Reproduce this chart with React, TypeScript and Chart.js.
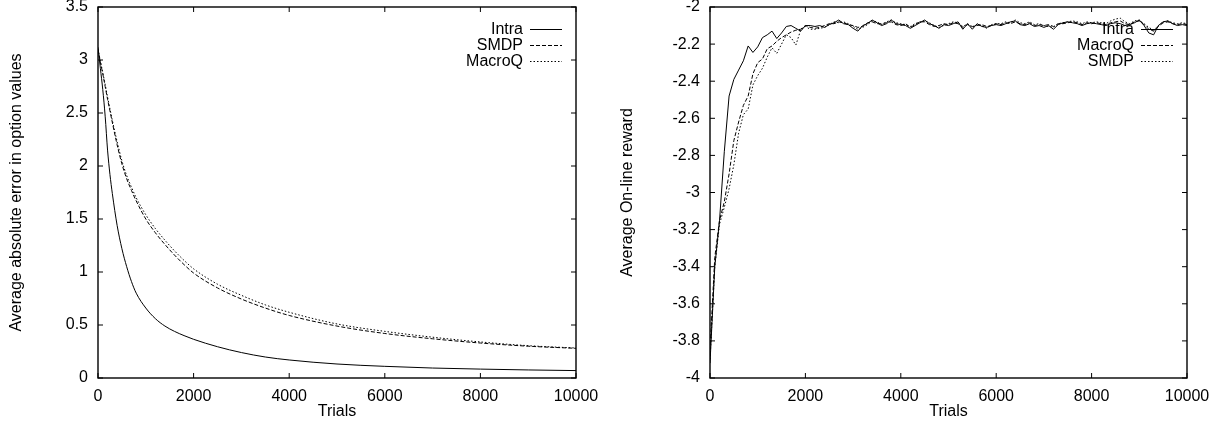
import React, { useEffect, useRef } from "react";
import { Chart, registerables } from "chart.js";
Chart.register(...registerables);

const FONT = '"Liberation Sans", Arial, Helvetica, sans-serif';

// ---------- Left panel: average absolute error in option values ----------
const errTrials = [0, 50, 100, 150, 200, 250, 300, 400, 500, 600, 700, 800, 1000, 1200, 1400, 1600, 1800, 2000, 2500, 3000, 3500, 4000, 5000, 6000, 7000, 8000, 9000, 10000];
const errIntra = [3.12, 2.92, 2.72, 2.47, 2.15, 1.92, 1.74, 1.44, 1.22, 1.05, 0.91, 0.8, 0.66, 0.56, 0.49, 0.44, 0.4, 0.365, 0.295, 0.24, 0.198, 0.17, 0.132, 0.11, 0.094, 0.084, 0.076, 0.07];
const errSMDP = [3.1, 2.98, 2.87, 2.75, 2.63, 2.52, 2.41, 2.2, 2.02, 1.88, 1.77, 1.67, 1.5, 1.37, 1.26, 1.16, 1.07, 0.99, 0.85, 0.745, 0.66, 0.59, 0.49, 0.42, 0.37, 0.33, 0.3, 0.28];
const errMacroQ = [3.1, 2.99, 2.88, 2.77, 2.65, 2.54, 2.43, 2.23, 2.05, 1.91, 1.8, 1.7, 1.54, 1.41, 1.3, 1.2, 1.11, 1.03, 0.885, 0.78, 0.69, 0.62, 0.51, 0.44, 0.385, 0.34, 0.305, 0.283];

// ---------- Right panel: average on-line reward ----------
const rewTrials = [
  0, 100, 200, 300, 400, 500, 600, 700, 800, 900,
  1000, 1100, 1200, 1300, 1400, 1500, 1600, 1700, 1800, 1900,
  2000, 2100, 2200, 2300, 2400, 2500, 2600, 2700, 2800, 2900,
  3000, 3100, 3200, 3300, 3400, 3500, 3600, 3700, 3800, 3900,
  4000, 4100, 4200, 4300, 4400, 4500, 4600, 4700, 4800, 4900,
  5000, 5100, 5200, 5300, 5400, 5500, 5600, 5700, 5800, 5900,
  6000, 6100, 6200, 6300, 6400, 6500, 6600, 6700, 6800, 6900,
  7000, 7100, 7200, 7300, 7400, 7500, 7600, 7700, 7800, 7900,
  8000, 8100, 8200, 8300, 8400, 8500, 8600, 8700, 8800, 8900,
  9000, 9100, 9200, 9300, 9400, 9500, 9600, 9700, 9800, 9900,
  10000,
];
const rewIntra = [
  -3.92, -3.4, -3.15, -2.78, -2.48, -2.39, -2.34, -2.29, -2.21, -2.245,
  -2.215, -2.165, -2.15, -2.13, -2.17, -2.14, -2.105, -2.1, -2.115, -2.13,
  -2.1, -2.1, -2.105, -2.1, -2.11, -2.095, -2.085, -2.07, -2.09, -2.095,
  -2.115, -2.13, -2.1, -2.09, -2.07, -2.085, -2.1, -2.09, -2.07, -2.09,
  -2.095, -2.1, -2.115, -2.1, -2.085, -2.07, -2.09, -2.1, -2.115, -2.095,
  -2.1, -2.09, -2.08, -2.12, -2.09, -2.12, -2.09, -2.105, -2.11, -2.1,
  -2.095, -2.1, -2.09, -2.08, -2.075, -2.095, -2.1, -2.09, -2.105, -2.1,
  -2.11, -2.1, -2.12, -2.095, -2.085, -2.08, -2.085, -2.09, -2.1, -2.09,
  -2.085, -2.09, -2.095, -2.1, -2.09, -2.085, -2.09, -2.1, -2.095, -2.085,
  -2.07, -2.1, -2.14, -2.15, -2.1, -2.08, -2.075, -2.09, -2.1, -2.095,
  -2.1,
];
const rewMacroQ = [
  -3.85, -3.35, -3.15, -3.05, -2.9, -2.72, -2.62, -2.53, -2.48, -2.36,
  -2.3, -2.28, -2.225, -2.21, -2.185, -2.165, -2.15, -2.135, -2.125, -2.12,
  -2.1, -2.11, -2.115, -2.11, -2.1, -2.09, -2.09, -2.08, -2.085, -2.095,
  -2.1, -2.11, -2.105, -2.085, -2.08, -2.09, -2.09, -2.085, -2.08, -2.095,
  -2.1, -2.09, -2.11, -2.095, -2.08, -2.08, -2.095, -2.105, -2.1, -2.09,
  -2.095, -2.085, -2.09, -2.11, -2.095, -2.105, -2.1, -2.095, -2.105, -2.1,
  -2.09, -2.095, -2.085, -2.09, -2.08, -2.09, -2.095, -2.085, -2.1, -2.095,
  -2.1, -2.095, -2.105, -2.09, -2.09, -2.085, -2.08, -2.085, -2.095, -2.085,
  -2.09, -2.085, -2.09, -2.095, -2.085, -2.08, -2.075, -2.09, -2.095, -2.08,
  -2.075, -2.095, -2.12, -2.13, -2.105, -2.085, -2.08, -2.09, -2.095, -2.09,
  -2.095,
];
const rewSMDP = [
  -3.9, -3.4, -3.17, -3.08, -2.98, -2.85, -2.68, -2.58, -2.55, -2.42,
  -2.37, -2.33, -2.27, -2.22, -2.25, -2.2, -2.15, -2.165, -2.205, -2.125,
  -2.105, -2.12, -2.12, -2.115, -2.11, -2.095, -2.08, -2.085, -2.08, -2.09,
  -2.105, -2.12, -2.11, -2.095, -2.075, -2.08, -2.095, -2.08, -2.07, -2.085,
  -2.09, -2.095, -2.105, -2.09, -2.08, -2.075, -2.085, -2.1, -2.11, -2.1,
  -2.09, -2.08, -2.085, -2.105, -2.09, -2.11, -2.095, -2.1, -2.115, -2.095,
  -2.09, -2.09, -2.08, -2.085, -2.07, -2.085, -2.09, -2.08, -2.095, -2.09,
  -2.1, -2.105, -2.11, -2.09, -2.085, -2.08, -2.075, -2.08, -2.09, -2.08,
  -2.085, -2.08, -2.085, -2.09, -2.075, -2.065, -2.06, -2.08, -2.09, -2.075,
  -2.07, -2.09, -2.11, -2.125, -2.1, -2.08, -2.075, -2.085, -2.09, -2.085,
  -2.09,
];

const SOLID: number[] = [];
const DASHED = [4, 2];
const DOTTED = [1.5, 2];

type Series = { label: string; x: number[]; y: number[]; dash: number[]; smooth: boolean };

const framePlugin = {
  id: "gnuFrame",
  afterDraw(chart: any) {
    const { ctx, chartArea: a, scales } = chart;
    ctx.save();
    ctx.strokeStyle = "#000";
    ctx.lineWidth = 1.4;
    ctx.setLineDash([]);
    ctx.strokeRect(a.left, a.top, a.right - a.left, a.bottom - a.top);
    const TL = 5;
    ctx.lineWidth = 1;
    ctx.beginPath();
    scales.x.ticks.forEach((t: any) => {
      const px = scales.x.getPixelForValue(t.value);
      ctx.moveTo(px, a.bottom);
      ctx.lineTo(px, a.bottom - TL);
      ctx.moveTo(px, a.top);
      ctx.lineTo(px, a.top + TL);
    });
    scales.y.ticks.forEach((t: any) => {
      const py = scales.y.getPixelForValue(t.value);
      ctx.moveTo(a.left, py);
      ctx.lineTo(a.left + TL, py);
      ctx.moveTo(a.right, py);
      ctx.lineTo(a.right - TL, py);
    });
    ctx.stroke();
    ctx.restore();
  },
};

const legendPlugin = {
  id: "gnuLegend",
  afterDatasetsDraw(chart: any) {
    const { ctx, chartArea: a } = chart;
    ctx.save();
    ctx.font = `16px ${FONT}`;
    ctx.fillStyle = "#000";
    ctx.textAlign = "right";
    ctx.textBaseline = "middle";
    chart.data.datasets.forEach((ds: any, i: number) => {
      const y = a.top + 22 + i * 16;
      ctx.fillText(ds.label, a.right - 53, y + 1);
      ctx.beginPath();
      ctx.strokeStyle = "#000";
      ctx.lineWidth = 1;
      ctx.setLineDash(ds.borderDash || []);
      ctx.moveTo(a.right - 46, y + 0.5);
      ctx.lineTo(a.right - 14, y + 0.5);
      ctx.stroke();
    });
    ctx.restore();
  },
};

function Panel(props: {
  series: Series[];
  yMin: number;
  yMax: number;
  yStep: number;
  yTitle: string;
  width: number;
  yAxisWidth: number;
  padRight: number;
}) {
  const ref = useRef<HTMLCanvasElement>(null);
  useEffect(() => {
    const { series, yMin, yMax, yStep, yTitle, yAxisWidth, padRight } = props;
    const font = { family: FONT, size: 16 };
    const chart = new Chart(ref.current as HTMLCanvasElement, {
      type: "line",
      data: {
        datasets: series.map((s) => ({
          label: s.label,
          data: s.x.map((x, i) => ({ x, y: s.y[i] })),
          borderColor: "#000",
          borderWidth: 1,
          borderDash: s.dash,
          pointRadius: 0,
          fill: false,
          tension: 0,
          cubicInterpolationMode: s.smooth ? "monotone" : "default",
        })),
      },
      options: {
        animation: false,
        responsive: false,
        events: [],
        layout: { padding: { left: 0, top: 7, right: padRight, bottom: 0 } },
        plugins: { legend: { display: false }, tooltip: { enabled: false } },
        scales: {
          x: {
            type: "linear",
            min: 0,
            max: 10000,
            grid: { display: false, drawTicks: false },
            border: { display: false },
            ticks: {
              stepSize: 2000,
              padding: 9,
              color: "#000",
              font,
              maxRotation: 0,
              autoSkip: false,
              callback: (v: any) => String(v),
            },
            title: { display: true, text: "Trials", color: "#000", font, padding: { top: 0, bottom: 5 } },
            afterFit: (s: any) => {
              s.height = 48;
            },
          },
          y: {
            type: "linear",
            min: yMin,
            max: yMax,
            grid: { display: false, drawTicks: false },
            border: { display: false },
            ticks: {
              stepSize: yStep,
              padding: 10,
              color: "#000",
              font: { family: FONT, size: 16, lineHeight: 0.05 },
              callback: (v: any) => String(+Number(v).toFixed(2)),
            },
            title: { display: true, text: yTitle, color: "#000", font, padding: { top: 7, bottom: 0 } },
            afterFit: (s: any) => {
              s.width = yAxisWidth;
              s.paddingTop = 0;
              s.paddingBottom = 0;
            },
          },
        },
      } as any,
      plugins: [framePlugin, legendPlugin],
    });
    return () => chart.destroy();
  }, []);
  return <canvas ref={ref} width={props.width} height={426} style={{ display: "block" }} />;
}

export default function App() {
  const left: Series[] = [
    { label: "Intra", x: errTrials, y: errIntra, dash: SOLID, smooth: true },
    { label: "SMDP", x: errTrials, y: errSMDP, dash: DASHED, smooth: true },
    { label: "MacroQ", x: errTrials, y: errMacroQ, dash: DOTTED, smooth: true },
  ];
  const right: Series[] = [
    { label: "Intra", x: rewTrials, y: rewIntra, dash: SOLID, smooth: false },
    { label: "MacroQ", x: rewTrials, y: rewMacroQ, dash: DASHED, smooth: false },
    { label: "SMDP", x: rewTrials, y: rewSMDP, dash: DOTTED, smooth: false },
  ];
  return (
    <div style={{ position: "absolute", left: 0, top: 0, width: 1223, height: 426, display: "flex", background: "#fff" }}>
      <Panel series={left} yMin={0} yMax={3.5} yStep={0.5} yTitle="Average absolute error in option values" width={611} yAxisWidth={98} padRight={35} />
      <Panel series={right} yMin={-4} yMax={-2} yStep={0.2} yTitle="Average On-line reward" width={612} yAxisWidth={99} padRight={36} />
    </div>
  );
}
